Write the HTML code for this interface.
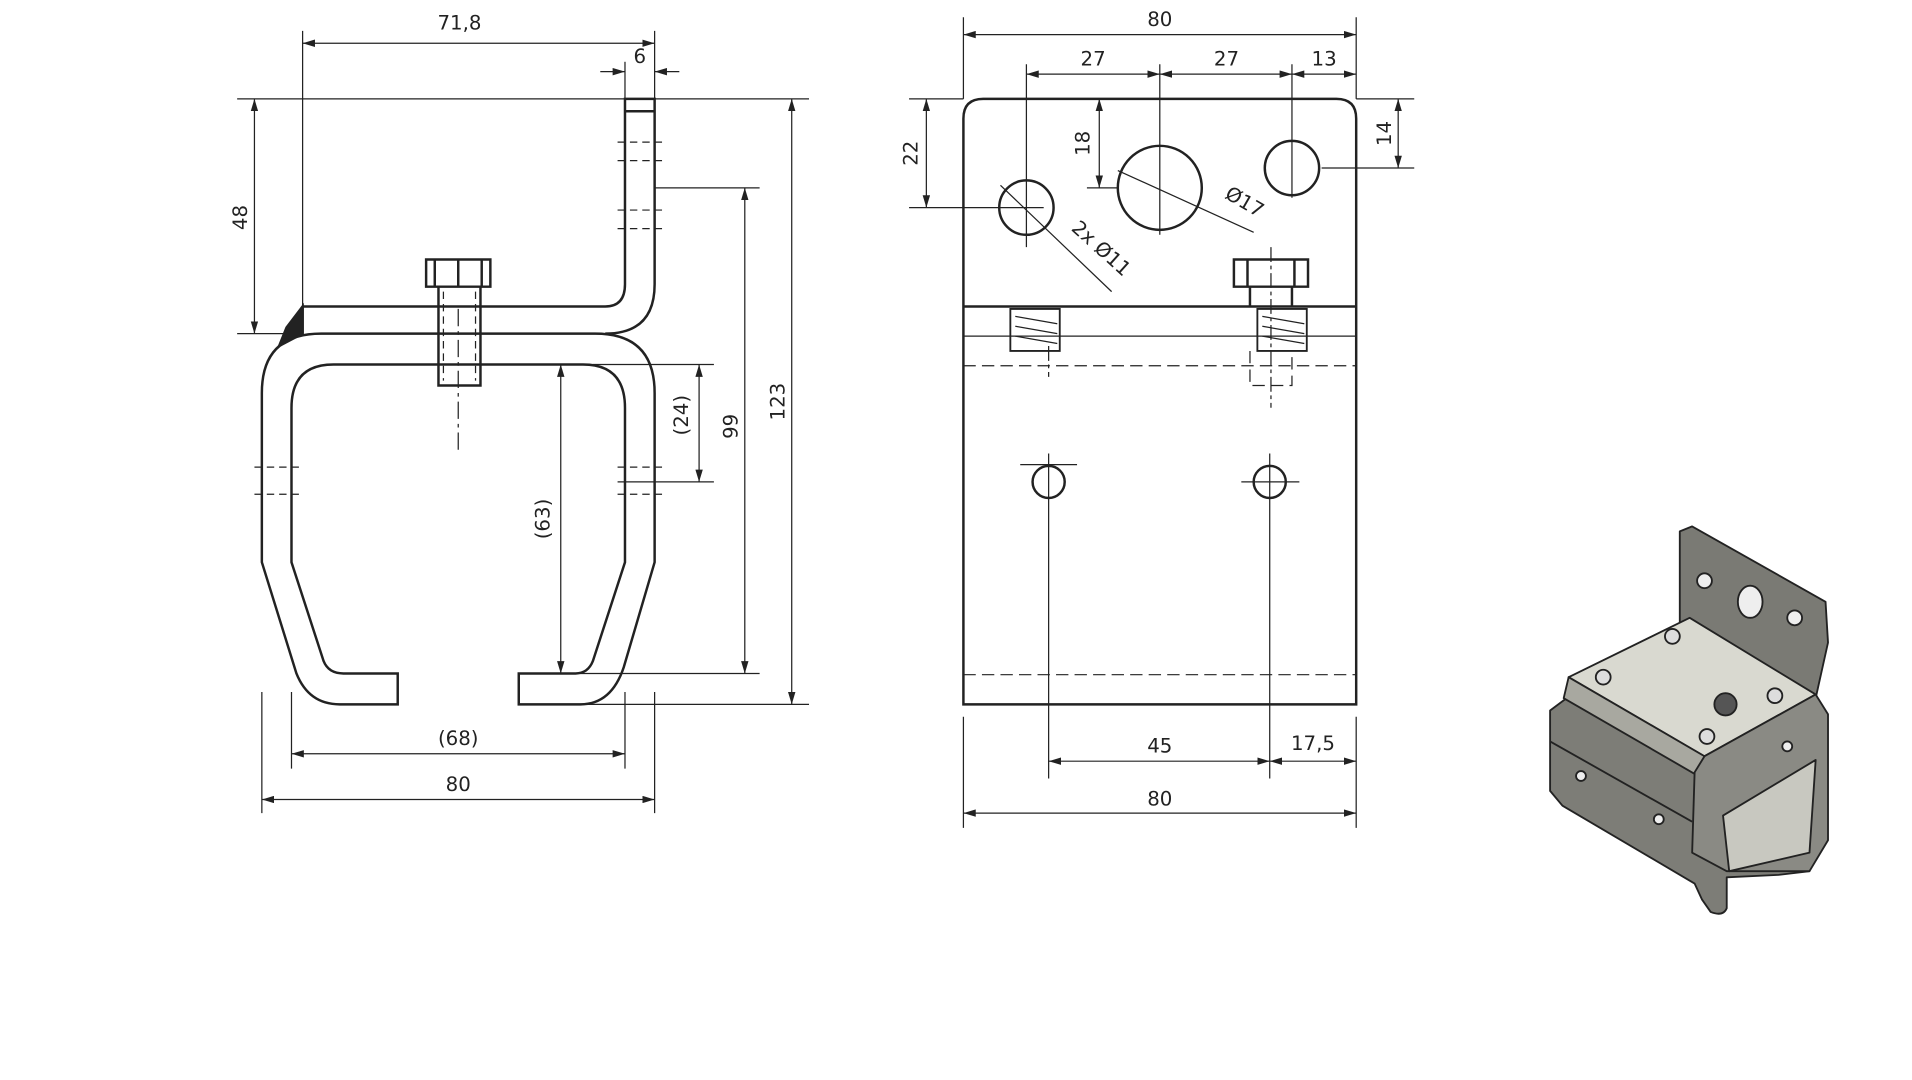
<!DOCTYPE html>
<html><head><meta charset="utf-8"><style>
html,body{margin:0;padding:0;background:#fff;width:1912px;height:1080px;overflow:hidden}
svg{display:block}
text{font-family:"DejaVu Sans","Liberation Sans",sans-serif;font-size:16px;fill:#222}
</style></head><body>
<svg width="1912" height="1080" viewBox="0 0 1548 874" preserveAspectRatio="none" xmlns="http://www.w3.org/2000/svg">
<defs>
<marker id="a" viewBox="0 0 10 6" refX="10" refY="3" markerWidth="10" markerHeight="6" orient="auto-start-reverse" markerUnits="userSpaceOnUse"><path d="M0,0 L10,3 L0,6 z" fill="#222"/></marker>
</defs>
<g stroke="#222" fill="none" stroke-width="2">
<!-- LEFT VIEW -->
<path d="M236,455 L236,330 Q236,295 270,295 L472,295 Q506,295 506,330 L506,455 L480,535 Q476,545 466,545 L420,545 L420,570 L470,570 Q495,570 505,540 L530,455 L530,318 Q530,270 482,270 L260,270 Q212,270 212,318 L212,455 L240,545 Q250,570 275,570 L322,570 L322,545 L278,545 Q266,545 262,535 Z"/>
<path d="M245,248 L490,248 Q506,248 506,230 L506,80 L530,80 L530,230 Q530,270 490,270"/>
<path d="M245,248 L245,270"/>
<path d="M506,90 L530,90"/>
<path d="M232,265 L245,248 L245,270 L226,280 Z" fill="#222"/>
<path d="M345,210 L397,210 L397,232 L345,232 Z M352,210 L352,232 M390,210 L390,232 M371,210 L371,232"/>
<path d="M355,232 L355,312 L389,312 L389,232"/>
</g>
<g stroke="#222" fill="none" stroke-width="1" stroke-dasharray="6,4">
<path d="M359,236 L359,308 M385,236 L385,308"/>
<path d="M500,115 L536,115 M500,130 L536,130 M500,170 L536,170 M500,185 L536,185"/>
<path d="M206,378 L242,378 M206,400 L242,400 M500,378 L536,378 M500,400 L536,400"/>
<path d="M371,250 L371,366" stroke-dasharray="14,4,3,4"/>
</g>
<g stroke="#222" fill="none" stroke-width="1">
<!-- dims left -->
<path d="M245,248 L245,25 M530,80 L530,25"/>
<path d="M245,35 L530,35" marker-start="url(#a)" marker-end="url(#a)"/>
<path d="M486,58 L506,58" marker-end="url(#a)"/><path d="M550,58 L530,58" marker-end="url(#a)"/>
<path d="M506,80 L506,50"/>
<path d="M192,80 L655,80 M192,270 L240,270"/>
<path d="M206,80 L206,270" marker-start="url(#a)" marker-end="url(#a)"/>
<path d="M530,152 L615,152 M480,295 L578,295 M500,390 L578,390 M470,545 L615,545 M470,570 L655,570"/>
<path d="M603,152 L603,545" marker-start="url(#a)" marker-end="url(#a)"/>
<path d="M641,80 L641,570" marker-start="url(#a)" marker-end="url(#a)"/>
<path d="M566,295 L566,390" marker-start="url(#a)" marker-end="url(#a)"/>
<path d="M454,295 L454,545" marker-start="url(#a)" marker-end="url(#a)"/>
<path d="M236,560 L236,622 M506,560 L506,622 M212,560 L212,658 M530,560 L530,658"/>
<path d="M236,610 L506,610" marker-start="url(#a)" marker-end="url(#a)"/>
<path d="M212,647 L530,647" marker-start="url(#a)" marker-end="url(#a)"/>
</g>
<text x="372" y="24" text-anchor="middle">71,8</text>
<text x="518" y="51" text-anchor="middle">6</text>
<text x="200" y="176" text-anchor="middle" transform="rotate(-90 200 176)">48</text>
<text x="597" y="345" text-anchor="middle" transform="rotate(-90 597 345)">99</text>
<text x="635" y="325" text-anchor="middle" transform="rotate(-90 635 325)">123</text>
<text x="557" y="336" text-anchor="middle" transform="rotate(-90 557 336)">(24)</text>
<text x="445" y="420" text-anchor="middle" transform="rotate(-90 445 420)">(63)</text>
<text x="371" y="603" text-anchor="middle">(68)</text>
<text x="371" y="640" text-anchor="middle">80</text>

<!-- MIDDLE VIEW -->
<g stroke="#222" fill="none" stroke-width="2">
<path d="M780,570 L780,96 Q780,80 796,80 L1082,80 Q1098,80 1098,96 L1098,570 Z"/>
<path d="M780,248 L1098,248"/>
<circle cx="831" cy="168" r="22"/><circle cx="939" cy="152" r="34"/><circle cx="1046" cy="136" r="22"/>
<circle cx="849" cy="390" r="13"/><circle cx="1028" cy="390" r="13"/>
<path d="M999,210 L1059,210 L1059,232 L999,232 Z M1010,210 L1010,232 M1048,210 L1048,232"/>
<path d="M1012,232 L1012,248 M1046,232 L1046,248"/>
<path d="M818,250 L858,250 L858,284 L818,284 Z M1018,250 L1058,250 L1058,284 L1018,284 Z" stroke-width="1.5"/>
</g>
<g stroke="#222" fill="none" stroke-width="1">
<path d="M780,272 L1098,272"/>
<path d="M822,256 L856,262 M822,264 L856,270 M822,272 L856,278 M1022,256 L1056,262 M1022,264 L1056,270 M1022,272 L1056,278"/>
<path d="M780,296 L1098,296 M780,546 L1098,546 M1012,284 L1012,312 L1046,312 L1046,284" stroke-dasharray="10,5"/>
<path d="M780,80 L780,14 M1098,80 L1098,14 M831,200 L831,52 M939,190 L939,52 M1046,160 L1046,52"/>
<path d="M780,28 L1098,28" marker-start="url(#a)" marker-end="url(#a)"/>
<path d="M831,60 L939,60" marker-start="url(#a)" marker-end="url(#a)"/>
<path d="M939,60 L1046,60" marker-start="url(#a)" marker-end="url(#a)"/>
<path d="M1046,60 L1098,60" marker-start="url(#a)" marker-end="url(#a)"/>
<path d="M736,80 L780,80 M736,168 L845,168 M880,152 L905,152 M1070,136 L1145,136 M1098,80 L1145,80"/>
<path d="M750,80 L750,168" marker-start="url(#a)" marker-end="url(#a)"/>
<path d="M890,80 L890,152" marker-start="url(#a)" marker-end="url(#a)"/>
<path d="M1132,80 L1132,136" marker-start="url(#a)" marker-end="url(#a)"/>
<path d="M810,150 L900,236"/><path d="M905,138 L1015,188"/>
<path d="M826,376 L872,376 M849,367 L849,630 M1005,390 L1052,390 M1028,367 L1028,630 M1098,580 L1098,670 M780,580 L780,670"/>
<path d="M849,616 L1028,616" marker-start="url(#a)" marker-end="url(#a)"/>
<path d="M1028,616 L1098,616" marker-start="url(#a)" marker-end="url(#a)"/>
<path d="M780,658 L1098,658" marker-start="url(#a)" marker-end="url(#a)"/>
<path d="M1029,200 L1029,330 M849,280 L849,305" stroke-dasharray="12,3,3,3"/>
</g>
<text x="939" y="21" text-anchor="middle">80</text>
<text x="885" y="53" text-anchor="middle">27</text>
<text x="993" y="53" text-anchor="middle">27</text>
<text x="1072" y="53" text-anchor="middle">13</text>
<text x="743" y="124" text-anchor="middle" transform="rotate(-90 743 124)">22</text>
<text x="882" y="116" text-anchor="middle" transform="rotate(-90 882 116)">18</text>
<text x="1126" y="108" text-anchor="middle" transform="rotate(-90 1126 108)">14</text>
<text x="1005" y="168" text-anchor="middle" transform="rotate(30 1005 168)">Ø17</text>
<text x="888" y="205" text-anchor="middle" transform="rotate(42 888 205)">2x Ø11</text>
<text x="939" y="609" text-anchor="middle">45</text>
<text x="1063" y="607" text-anchor="middle">17,5</text>
<text x="939" y="652" text-anchor="middle">80</text>

<!-- 3D view -->
<g stroke="#222" stroke-width="1.5" stroke-linejoin="round">
<path d="M1255,575 L1275,560 L1465,670 L1465,705 L1440,708 L1398,710 L1398,735 Q1395,742 1385,738 L1378,728 L1372,715 L1265,652 L1255,640 Z" fill="#7d7d77"/>
<path d="M1255,600 L1370,665" fill="none"/>
<path d="M1360,520 L1360,430 L1370,426 L1478,487 L1480,520 L1470,565 L1462,560 L1385,520 Z" fill="#7a7a74"/>
<path d="M1270,548 L1368,500 L1470,562 L1380,612 Z" fill="#d9d9d0"/>
<path d="M1380,612 L1375,628 L1266,565 L1270,548 Z" fill="#a8a8a0"/>
<path d="M1380,612 L1470,562 L1480,578 L1480,680 L1465,705 L1398,705 L1370,690 L1372,625 Z" fill="#8a8a84"/>
<path d="M1395,660 L1470,615 L1465,690 L1400,705 Z" fill="#c8c8c0"/>
<circle cx="1380" cy="470" r="6" fill="#eee"/><ellipse cx="1417" cy="487" rx="10" ry="13" fill="#eee"/><circle cx="1453" cy="500" r="6" fill="#eee"/>
<circle cx="1298" cy="548" r="6" fill="#ddd"/><circle cx="1354" cy="515" r="6" fill="#ddd"/><circle cx="1437" cy="563" r="6" fill="#ddd"/><circle cx="1382" cy="596" r="6" fill="#ddd"/>
<circle cx="1397" cy="570" r="9" fill="#555"/>
<circle cx="1280" cy="628" r="4" fill="#eee"/><circle cx="1343" cy="663" r="4" fill="#eee"/><circle cx="1447" cy="604" r="4" fill="#eee"/>
</g>
</svg>
</body></html>
